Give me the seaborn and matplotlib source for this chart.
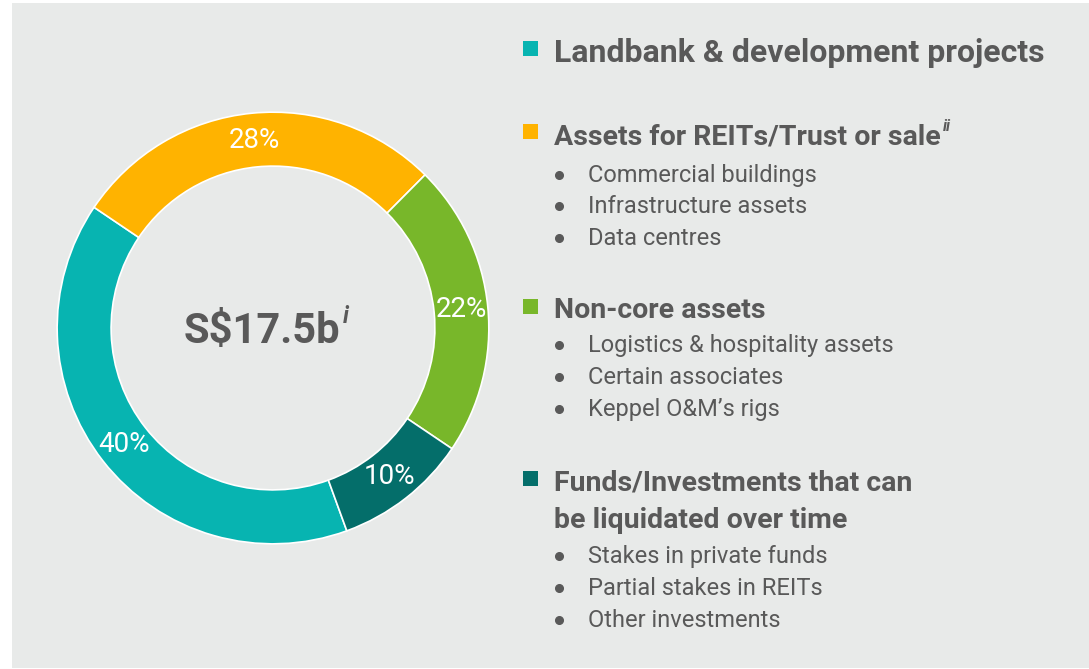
import matplotlib
matplotlib.use("Agg")
import matplotlib.pyplot as plt
import seaborn as sns
from matplotlib.patches import Rectangle
from matplotlib.lines import Line2D

# --- data ---
categorias = ["Landbank & development projects",
              "Assets for REITs/Trust or sale",
              "Non-core assets",
              "Funds/Investments that can\nbe liquidated over time"]
valores = [40, 28, 22, 10]
rotulos = ["40%", "28%", "22%", "10%"]
total_txt = "S$17.5b"
notas = ["", "ii", "", ""]
sub_itens = [[],
             ["Commercial buildings", "Infrastructure assets", "Data centres"],
             ["Logistics & hospitality assets", "Certain associates", "Keppel O&M\u2019s rigs"],
             ["Stakes in private funds", "Partial stakes in REITs", "Other investments"]]

cores = sns.color_palette(["#07b4b1", "#ffb300", "#78b72a", "#046e6a"])
CINZA = "#595959"
FUNDO = "#e8eae9"

sns.set_style("white")
plt.rcParams["font.family"] = ["Roboto", "DejaVu Sans"]

W, H = 1089, 669
fig = plt.figure(figsize=(W / 100, H / 100), dpi=100, facecolor="white")

def fx(px):
    return px / W

def fy(py):
    return 1 - py / H

# painel de fundo
fig.patches.append(Rectangle((fx(12), fy(668)), fx(W) - fx(12), fy(3) - fy(668),
                             transform=fig.transFigure, facecolor=FUNDO,
                             edgecolor="none", zorder=-5))

# --- donut ---
cx, cy, r = 273, 328, 218
ax = fig.add_axes([fx(cx - r), fy(cy + r), 2 * r / W, 2 * r / H])
ax.set_zorder(2)
ax.set_facecolor("none")
wedges, textos = ax.pie(valores, colors=cores, startangle=-70, counterclock=False,
                        labels=rotulos, labeldistance=0.875,
                        wedgeprops=dict(width=0.25, edgecolor="white", linewidth=1.2),
                        textprops=dict(color="white", fontsize=20, ha="center", va="center"))
ax.set_xlim(-1.01, 1.01)
ax.set_ylim(-1.01, 1.01)
ax.set_aspect("equal")
ax.axis("off")

renderer = fig.canvas.get_renderer()

def com_sobrescrito(x, y, texto, nota, size, ha="left"):
    t = fig.text(fx(x), fy(y), texto, fontsize=size, fontweight="bold",
                 color=CINZA, ha=ha, va="baseline", zorder=3)
    if nota:
        bb = t.get_window_extent(renderer=renderer)
        fig.text(bb.x1 / W + fx(2), fy(y) + (size * 0.48) / 0.72 / H, nota,
                 fontsize=size * 0.55, fontweight="bold", fontstyle="italic",
                 color=CINZA, ha="left", va="baseline", zorder=3)
    return t

# valor total no centro
com_sobrescrito(262, 343, total_txt.replace("$", r"\$"), "i", 30, ha="center")

# --- legenda à direita ---
quadrados_y = [48, 131, 306, 478]
titulos_y = [62, 145, 318, 490]
titulos_tam = [23, 20.5, 20.5, 20.5]
itens_y = [[], [182, 213, 245], [352, 384, 416], [563, 595, 627]]

for i, cat in enumerate(categorias):
    fig.patches.append(Rectangle((fx(523), fy(quadrados_y[i] + 7.5)), 15 / W, 15 / H,
                                 transform=fig.transFigure, facecolor=cores[i],
                                 edgecolor="none", zorder=3))
    linhas = cat.split("\n")
    for j, linha in enumerate(linhas):
        nota = notas[i] if j == len(linhas) - 1 else ""
        com_sobrescrito(554, titulos_y[i] + j * 38, linha, nota, titulos_tam[i])
    for item, yy in zip(sub_itens[i], itens_y[i]):
        fig.lines.append(Line2D([fx(559)], [fy(yy - 7)], transform=fig.transFigure,
                                marker="o", markersize=5.5, color=CINZA,
                                linestyle="none", zorder=3))
        fig.text(fx(588), fy(yy), item, fontsize=17, color=CINZA,
                 ha="left", va="baseline", zorder=3)

plt.savefig("out.png", dpi=100, facecolor="white")
plt.close()
